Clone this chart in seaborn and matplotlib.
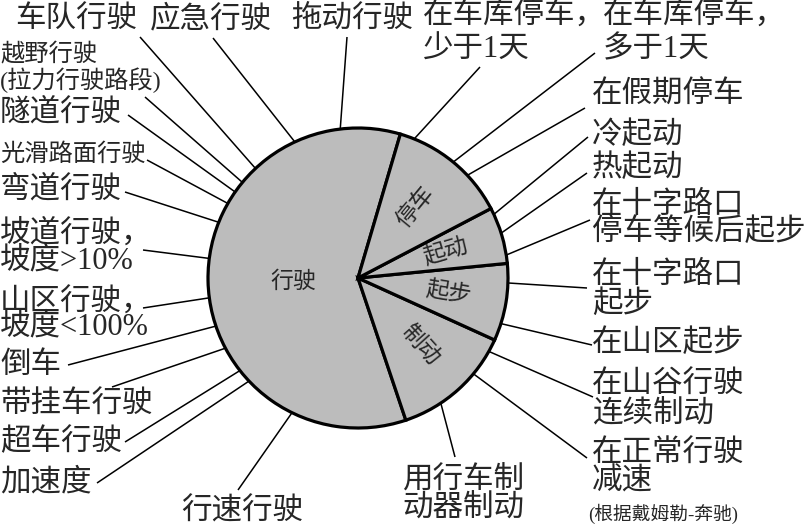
import numpy as np
import matplotlib.pyplot as plt
import seaborn as sns

# wedge data (degrees of the full circle)
categories = ['行驶', '制动', '起步', '起动', '停车']
shares = [215, 47, 30, 22, 46]

# outer labels: text, angle where the leader line meets the circle (deg)
outer_labels = [
    '车队行驶', '应急行驶', '拖动行驶', '越野行驶\n(拉力行驶路段)', '隧道行驶',
    '光滑路面行驶', '弯道行驶', '坡道行驶，\n坡度>10%', '山区行驶，\n坡度<100%',
    '倒车', '带挂车行驶', '超车行驶', '加速度', '行速行驶',
    '用行车制\n动器制动', '在正常行驶\n减速', '在山谷行驶\n连续制动', '在山区起步',
    '在十字路口\n起步', '在十字路口\n停车等候后起步', '热起动', '冷起动',
    '在假期停车', '在车库停车，\n多于1天', '在车库停车，\n少于1天',
]
outer_angles = [
    133.1, 114.9, 96.8, 140.4, 145.0,
    150.2, 158.2, 172.5, 187.6,
    198.7, 207.9, 218.1, 223.4, 243.9,
    -56.5, -39.7, -29.3, -17.7,
    -1.9, 8.8, 17.4, 25.1,
    43.2, 50.6, 68.0,
]
source_note = '(根据戴姆勒-奔驰)'

W, H = 809, 525
CX, CY, R = 358, 278, 150

# layout (pixel coords, y from top): leader end, text anchor, ha, size, linespacing
layout = [
    ((140, 37), (76, 20), 'center', 22, 1.0),
    ((213, 38), (211, 20), 'center', 22, 1.0),
    ((347, 37), (352, 20), 'center', 22, 1.0),
    ((145, 97), (0, 68), 'left', 17.5, 1.05),
    ((128, 115), (0, 113), 'left', 22, 1.0),
    ((147, 160), (0, 155), 'left', 17.5, 1.0),
    ((125, 192), (0, 190), 'left', 22, 1.0),
    ((143, 250), (0, 247), 'left', 22, 0.9),
    ((143, 308), (0, 315), 'left', 22, 0.8),
    ((68, 365), (0, 365), 'left', 22, 1.0),
    ((112, 387), (0, 405), 'left', 22, 1.0),
    ((125, 442), (0, 443), 'left', 22, 1.0),
    ((97, 483), (0, 483), 'left', 22, 1.0),
    ((238, 490), (242, 512), 'center', 22, 1.0),
    ((455, 457), (402, 495), 'left', 22, 0.95),
    ((587, 458), (592, 468), 'left', 22, 0.95),
    ((593, 397), (592, 400), 'left', 22, 1.05),
    ((592, 345), (592, 343), 'left', 22, 1.0),
    ((587, 288), (592, 290), 'left', 22, 0.97),
    ((590, 220), (592, 219), 'left', 22, 0.92),
    ((587, 173), (592, 168), 'left', 22, 1.0),
    ((588, 137), (592, 135), 'left', 22, 1.0),
    ((585, 108), (592, 95), 'left', 22, 1.0),
    ((595, 53), (603, 33), 'left', 22, 1.25),
    ((480, 67), (423, 33), 'left', 22, 1.25),
]

sns.set_theme(style='white')
plt.rcParams['font.family'] = ['Liberation Serif', 'Noto Sans CJK SC', 'DejaVu Sans']

fig = plt.figure(figsize=(W / 100, H / 100), dpi=100)
ax = fig.add_axes([0, 0, 1, 1])

wedges, _ = ax.pie(shares, startangle=73.6, counterclock=True,
                   center=(CX, H - CY), radius=R, colors=['#bcbcbc'],
                   wedgeprops=dict(edgecolor='black', linewidth=2.3))

# wedge names, rotated along the radius
for w, name in zip(wedges, categories):
    mid = np.deg2rad((w.theta1 + w.theta2) / 2)
    if name == '行驶':
        ax.text(CX - 65, H - CY - 4, name, ha='center', va='center', fontsize=16.5)
        continue
    dist = 0.61 * R
    rot = np.rad2deg(mid)
    if rot > 180:
        rot -= 360
    ax.text(CX + dist * np.cos(mid), H - CY + dist * np.sin(mid), name,
            ha='center', va='center', rotation=rot, rotation_mode='anchor',
            fontsize=16.5)

# leader lines and labels
for text, ang, (end, anchor, ha, size, ls) in zip(outer_labels, outer_angles, layout):
    a = np.deg2rad(ang)
    x0, y0 = CX + R * np.cos(a), H - CY + R * np.sin(a)
    ax.plot([x0, end[0]], [y0, H - end[1]], color='black', lw=1.1,
            solid_capstyle='butt', zorder=0)
    ax.text(anchor[0], H - anchor[1], text, ha=ha, va='center',
            fontsize=size, linespacing=ls)

ax.text(588, H - 514, source_note, ha='left', va='center', fontsize=13.5)

ax.set_xlim(0, W)
ax.set_ylim(0, H)
ax.set_aspect('equal')
ax.axis('off')

fig.savefig('out.png', dpi=100)
